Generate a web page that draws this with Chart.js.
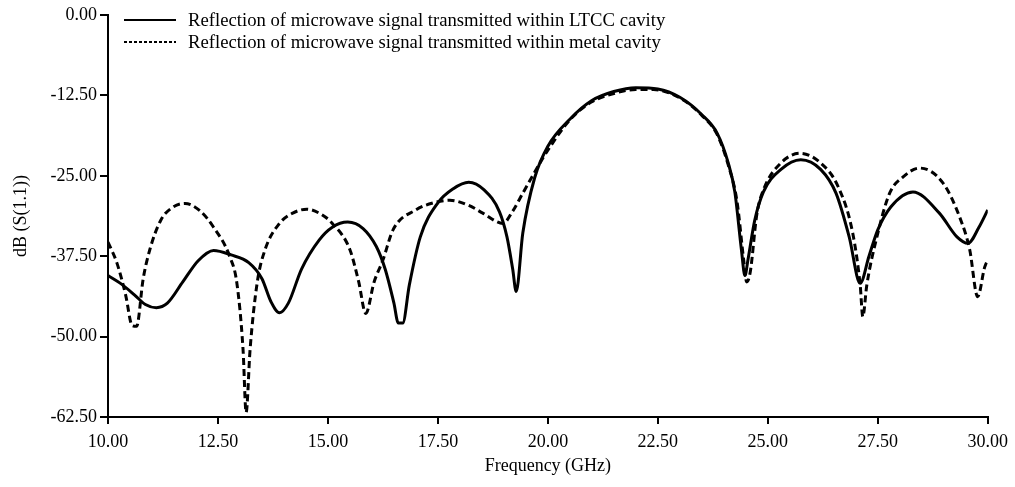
<!DOCTYPE html>
<html>
<head>
<meta charset="utf-8">
<script src="https://cdn.jsdelivr.net/npm/chart.js@4.4.0/dist/chart.umd.min.js"></script>
<style>
  html, body { margin: 0; padding: 0; background: #fff; }
  #wrap { width: 1015px; height: 487px; }
</style>
</head>
<body>
<div id="wrap"><canvas id="sChart" width="1015" height="487"></canvas></div>
<script>
// LTCC cavity curve (GHz, dB)
const ltccFreq = [10.0, 10.3, 10.6, 10.85, 11.1, 11.35, 11.7, 12.05, 12.4, 12.8, 13.2, 13.5, 13.7, 13.9, 14.1, 14.4, 14.8, 15.1, 15.45, 15.8, 16.1, 16.3, 16.5, 16.6, 16.7, 16.85, 17.1, 17.5, 17.85, 18.2, 18.55, 18.9, 19.07, 19.2, 19.28, 19.43, 19.7, 20.0, 20.5, 21.0, 21.5, 22.0, 22.5, 23.0, 23.5, 23.85, 24.1, 24.25, 24.4, 24.48, 24.55, 24.7, 24.9, 25.3, 25.75, 26.2, 26.55, 26.85, 27.1, 27.3, 27.5, 27.8, 28.3, 28.9, 29.3, 29.55, 29.8, 30.0];
const ltccDb = [-40.5, -41.8, -43.5, -45.0, -45.5, -44.8, -41.5, -38.2, -36.6, -37.3, -38.5, -41.0, -44.5, -46.3, -44.8, -39.5, -35.0, -33.0, -32.2, -33.2, -36.0, -39.5, -44.8, -47.9, -47.9, -42.0, -34.5, -29.2, -27.0, -26.0, -27.2, -30.6, -34.5, -39.5, -43.0, -33.9, -25.3, -20.4, -16.2, -13.3, -11.9, -11.3, -11.5, -12.8, -15.5, -18.4, -23.0, -27.5, -36.5, -40.5, -38.0, -32.0, -27.5, -24.0, -22.5, -24.0, -27.7, -34.5, -41.7, -37.5, -33.4, -29.8, -27.5, -30.8, -34.5, -35.5, -33.0, -30.3];

// metal cavity curve (GHz, dB)
const metalFreq = [10.0, 10.2, 10.4, 10.55, 10.65, 10.8, 10.95, 11.2, 11.45, 11.75, 12.1, 12.4, 12.77, 12.93, 13.07, 13.14, 13.23, 13.39, 13.57, 13.9, 14.2, 14.52, 14.85, 15.1, 15.5, 15.7, 15.86, 16.05, 16.25, 16.48, 17.0, 17.4, 17.77, 18.2, 18.52, 18.98, 19.2, 19.43, 19.89, 20.0, 20.5, 21.0, 21.5, 22.0, 22.4, 23.0, 23.5, 23.85, 24.1, 24.3, 24.45, 24.52, 24.6, 24.75, 24.9, 25.3, 25.73, 26.2, 26.6, 26.93, 27.1, 27.16, 27.25, 27.48, 27.77, 28.07, 28.45, 28.98, 29.36, 29.59, 29.77, 29.93, 30.0];
const metalDb = [-35.3, -38.5, -43.5, -48.3, -48.4, -41.0, -36.5, -31.9, -30.0, -29.3, -30.5, -33.0, -37.6, -41.7, -52.0, -61.8, -52.0, -41.7, -36.5, -32.4, -30.8, -30.2, -31.0, -32.4, -36.5, -41.5, -46.4, -41.5, -38.1, -33.4, -30.3, -29.2, -28.8, -29.6, -30.8, -32.4, -30.5, -27.7, -22.2, -21.0, -16.3, -13.5, -12.2, -11.6, -11.6, -12.9, -15.6, -18.6, -23.3, -29.0, -38.0, -41.5, -40.0, -31.0, -27.2, -23.0, -21.5, -23.0, -26.7, -33.9, -42.0, -46.9, -42.0, -34.5, -27.7, -25.2, -23.8, -26.1, -31.4, -36.5, -43.8, -39.2, -38.1];

const seriesLabels = ['Reflection of microwave signal transmitted within LTCC cavity',
                      'Reflection of microwave signal transmitted within metal cavity'];
const xTicks = [10, 12.5, 15, 17.5, 20, 22.5, 25, 27.5, 30];
const yTicks = [0, -12.5, -25, -37.5, -50, -62.5];

const serif = '"Liberation Serif", "Times New Roman", serif';

function toPoints(xs, ys) {
    return xs.map((x, i) => ({ x: x, y: ys[i] }));
}

// legend drawn inside the plot, top left
const innerLegend = {
    id: 'innerLegend',
    afterDraw(chart) {
        const c = chart.ctx;
        c.save();
        c.font = '18.7px ' + serif;
        c.fillStyle = '#000';
        c.textBaseline = 'middle';
        const rows = [20, 42];
        chart.data.datasets.forEach((ds, i) => {
            const y = rows[i];
            c.strokeStyle = '#000';
            c.lineWidth = 2;
            c.setLineDash(i === 0 ? [] : [3, 2]);
            c.beginPath();
            c.moveTo(124, y);
            c.lineTo(176, y);
            c.stroke();
            c.setLineDash([]);
            c.fillText(ds.label, 188, y + 1);
        });
        c.restore();
    }
};

const ctx = document.getElementById('sChart').getContext('2d');
new Chart(ctx, {
    type: 'line',
    data: {
        datasets: [{
            label: seriesLabels[0],
            data: toPoints(ltccFreq, ltccDb),
            borderColor: '#000',
            borderWidth: 3,
            pointRadius: 0,
            cubicInterpolationMode: 'monotone',
            fill: false
        }, {
            label: seriesLabels[1],
            data: toPoints(metalFreq, metalDb),
            borderColor: '#000',
            borderWidth: 3,
            borderDash: [7, 4],
            pointRadius: 0,
            cubicInterpolationMode: 'monotone',
            fill: false
        }]
    },
    options: {
        responsive: false,
        animation: false,
        layout: { padding: { left: 0, right: 27, top: 15, bottom: 0 } },
        plugins: {
            legend: { display: false },
            tooltip: { enabled: false }
        },
        scales: {
            x: {
                type: 'linear',
                min: 10,
                max: 30,
                afterBuildTicks: (s) => { s.ticks = xTicks.map(v => ({ value: v })); },
                afterFit: (s) => { s.height = 70; },
                ticks: {
                    color: '#000',
                    font: { family: serif, size: 18 },
                    padding: 7,
                    maxRotation: 0,
                    callback: (v) => v.toFixed(2)
                },
                grid: { drawOnChartArea: false, drawTicks: true, tickLength: 7, color: '#000', lineWidth: 2 },
                border: { display: true, color: '#000', width: 2 },
                title: {
                    display: true,
                    text: 'Frequency (GHz)',
                    color: '#000',
                    font: { family: serif, size: 18 },
                    padding: { top: 4, bottom: 10 }
                }
            },
            y: {
                min: -62.5,
                max: 0,
                afterBuildTicks: (s) => { s.ticks = yTicks.map(v => ({ value: v })); },
                afterFit: (s) => { s.width = 108; },
                ticks: {
                    color: '#000',
                    font: { family: serif, size: 18 },
                    padding: 3,
                    callback: (v) => v.toFixed(2)
                },
                grid: { drawOnChartArea: false, drawTicks: true, tickLength: 8, color: '#000', lineWidth: 2 },
                border: { display: true, color: '#000', width: 2 },
                title: {
                    display: true,
                    text: 'dB (S(1.1))',
                    color: '#000',
                    font: { family: serif, size: 18 },
                    padding: { top: 10, bottom: 0 }
                }
            }
        }
    },
    plugins: [innerLegend]
});
</script>
</body>
</html>
